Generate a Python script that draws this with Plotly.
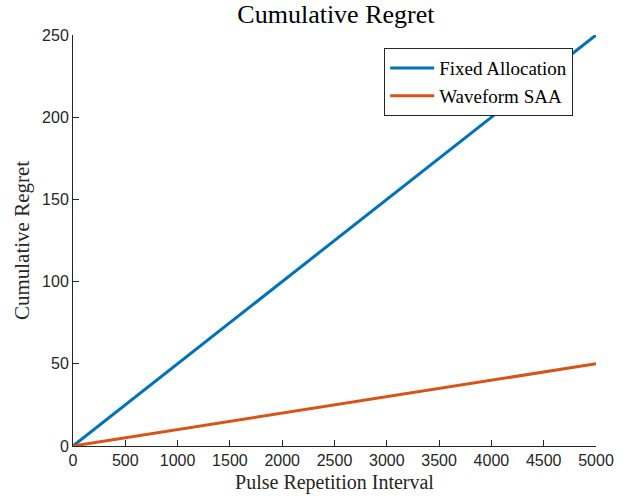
import plotly.graph_objects as go

x_vals = [0, 5000]
fixed_allocation = [0, 250]
waveform_saa = [0, 50]
x_ticks = [0, 500, 1000, 1500, 2000, 2500, 3000, 3500, 4000, 4500, 5000]
y_ticks = [0, 50, 100, 150, 200, 250]

fig = go.Figure()
fig.add_trace(go.Scatter(x=x_vals, y=fixed_allocation, mode="lines", name="Fixed Allocation",
                         line=dict(color="#0072BD", width=3)))
fig.add_trace(go.Scatter(x=x_vals, y=waveform_saa, mode="lines", name="Waveform SAA",
                         line=dict(color="#D95319", width=3)))

fig.update_layout(
    width=635, height=497,
    margin=dict(l=73, r=39, t=35, b=51),
    plot_bgcolor="white", paper_bgcolor="white",
    title=dict(text="Cumulative Regret", x=0.529, xanchor="center", y=0.972, yanchor="middle",
               font=dict(family="Liberation Serif", size=26, color="black")),
    showlegend=True,
    legend=dict(x=0.595, y=0.968, xanchor="left", yanchor="top",
                bordercolor="#262626", borderwidth=1, bgcolor="white",
                font=dict(family="Liberation Serif", size=19, color="black"),
                tracegroupgap=0, itemwidth=44),
    xaxis=dict(range=[0, 5000], tickvals=x_ticks, ticks="inside", ticklen=6, tickcolor="#262626",
               showline=True, linecolor="#262626", linewidth=1, showgrid=False, zeroline=False,
               automargin=False,
               tickfont=dict(family="Liberation Sans", size=16, color="#262626"),
               title=dict(text="Pulse Repetition Interval", standoff=6,
                          font=dict(family="Liberation Serif", size=20, color="#262626"))),
    yaxis=dict(range=[0, 250], tickvals=y_ticks, ticks="inside", ticklen=6, tickcolor="#262626",
               showline=True, linecolor="#262626", linewidth=1, showgrid=False, zeroline=False,
               automargin=False,
               tickfont=dict(family="Liberation Sans", size=16, color="#262626"),
               title=dict(text="Cumulative Regret", standoff=6,
                          font=dict(family="Liberation Serif", size=21, color="#262626"))),
)

fig.write_html("out.html", config={"displayModeBar": False},
               post_script="document.body.style.margin='0';")
